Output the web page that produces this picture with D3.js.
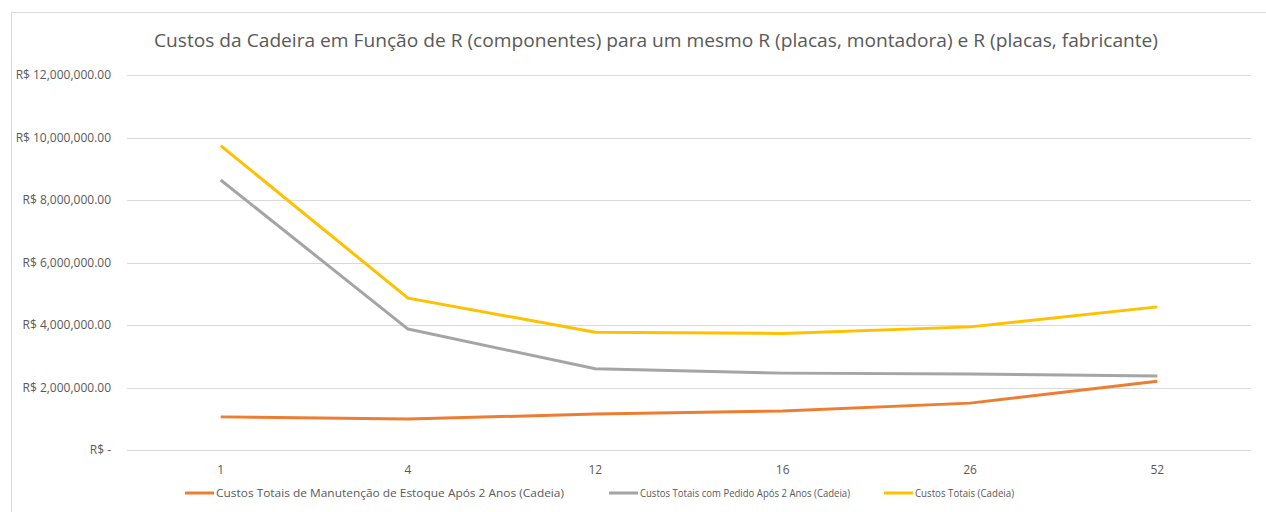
<!DOCTYPE html>
<html>
<head>
<meta charset="utf-8">
<script src="https://cdn.jsdelivr.net/npm/d3@7"></script>
<style>
  body { margin: 0; background: #fff; }
  svg { display: block; font-family: "Open Sans", sans-serif; }
</style>
</head>
<body>
<script>
// data
var categories = ["1", "4", "12", "16", "26", "52"];
var manutencao = [1060000, 990000, 1150000, 1250000, 1500000, 2200000];
var pedido = [8640000, 3870000, 2600000, 2460000, 2430000, 2370000];
var totais = [9740000, 4860000, 3770000, 3730000, 3940000, 4580000];
var yTicks = [0, 2000000, 4000000, 6000000, 8000000, 10000000, 12000000];

var series = [
  { name: "Custos Totais de Manutenção de Estoque Após 2 Anos (Cadeia)", values: manutencao, color: "#ed7d31" },
  { name: "Custos Totais com Pedido Após 2 Anos (Cadeia)", values: pedido, color: "#a5a5a5" },
  { name: "Custos Totais (Cadeia)", values: totais, color: "#ffc000" }
];

var W = 1266, H = 512;
var svg = d3.select("body").append("svg").attr("width", W).attr("height", H);

// chart frame (top + left edge only visible)
svg.append("path")
  .attr("d", "M11.5,512 V12.5 H1266")
  .attr("fill", "none")
  .attr("stroke", "#d9d9d9");

var x = d3.scaleBand().domain(categories).range([127, 1251]);
var y = d3.scaleLinear().domain([0, 12000000]).range([450, 75]);

// title
svg.append("text")
  .attr("x", 656).attr("y", 47)
  .attr("text-anchor", "middle")
  .attr("font-size", 19)
  .attr("fill", "#595959")
  .attr("textLength", 1004)
  .attr("lengthAdjust", "spacingAndGlyphs")
  .text("Custos da Cadeira em Função de R (componentes) para um mesmo R (placas, montadora) e R (placas, fabricante)");

// gridlines
svg.append("g").selectAll("line")
  .data(yTicks).enter().append("line")
  .attr("x1", 127).attr("x2", 1251)
  .attr("y1", function(d) { return Math.round(y(d)) + 0.5; })
  .attr("y2", function(d) { return Math.round(y(d)) + 0.5; })
  .attr("stroke", "#d9d9d9");

// y labels
var fmt = d3.format(",.2f");
svg.append("g").selectAll("text")
  .data(yTicks).enter().append("text")
  .attr("x", 111)
  .attr("y", function(d) { return y(d) + 4; })
  .attr("text-anchor", "end")
  .attr("font-size", 12)
  .attr("fill", "#595959")
  .text(function(d) { return d === 0 ? "R$ -" : "R$ " + fmt(d); });

// x labels
svg.append("g").selectAll("text")
  .data(categories).enter().append("text")
  .attr("x", function(d) { return x(d) + x.bandwidth() / 2; })
  .attr("y", 474)
  .attr("text-anchor", "middle")
  .attr("font-size", 12)
  .attr("fill", "#595959")
  .text(function(d) { return d; });

// lines
var line = d3.line()
  .x(function(d, i) { return x(categories[i]) + x.bandwidth() / 2; })
  .y(function(d) { return y(d); });

svg.append("g").selectAll("path")
  .data(series).enter().append("path")
  .attr("d", function(s) { return line(s.values); })
  .attr("fill", "none")
  .attr("stroke", function(s) { return s.color; })
  .attr("stroke-width", 3)
  .attr("stroke-linejoin", "round");

// legend
var legendX = [185, 609, 884];
var legendW = [348, 210, 99];
var leg = svg.append("g").selectAll("g")
  .data(series).enter().append("g")
  .attr("transform", function(d, i) { return "translate(" + legendX[i] + ",493)"; });
leg.append("line")
  .attr("x1", 0).attr("x2", 29)
  .attr("stroke", function(d) { return d.color; })
  .attr("stroke-width", 3);
leg.append("text")
  .attr("x", 31).attr("y", 4)
  .attr("font-size", 11)
  .attr("fill", "#595959")
  .attr("textLength", function(d, i) { return legendW[i]; })
  .attr("lengthAdjust", "spacingAndGlyphs")
  .text(function(d) { return d.name; });
</script>
</body>
</html>
